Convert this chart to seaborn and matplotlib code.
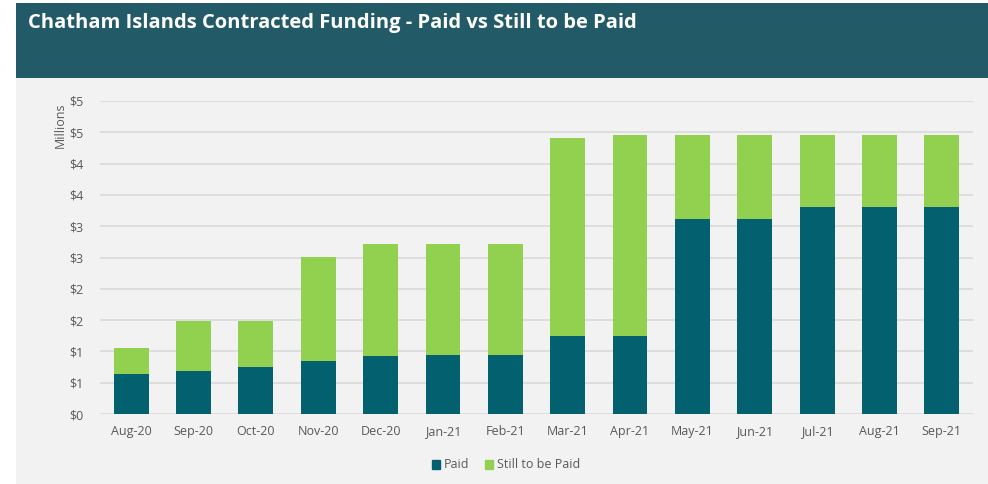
import matplotlib
matplotlib.use("Agg")
import matplotlib.pyplot as plt
import matplotlib.patches as mpatches
from matplotlib.ticker import FuncFormatter, MultipleLocator
import seaborn as sns
import pandas as pd

# values in $ millions
months = ["Aug-20", "Sep-20", "Oct-20", "Nov-20", "Dec-20", "Jan-21", "Feb-21",
          "Mar-21", "Apr-21", "May-21", "Jun-21", "Jul-21", "Aug-21", "Sep-21"]
paid = [0.64, 0.69, 0.75, 0.84, 0.92, 0.94, 0.94, 1.24, 1.24, 3.12, 3.12, 3.30, 3.30, 3.30]
still_to_be_paid = [0.41, 0.79, 0.73, 1.67, 1.79, 1.77, 1.78, 3.17, 3.22, 1.34, 1.34, 1.16, 1.16, 1.16]

teal = "#02606f"
green = "#92d050"
header = "#235a68"
bg = "#f2f2f2"
text_col = "#595959"

df = pd.DataFrame({"Month": months, "Paid": paid, "Still": still_to_be_paid})
df["Total"] = df["Paid"] + df["Still"]

sns.set_theme(style="white")
plt.rcParams["font.family"] = ["Open Sans", "DejaVu Sans"]

fig = plt.figure(figsize=(9.88, 4.84), dpi=100)
fig.patch.set_facecolor("white")

# grey panel and header band
fig.patches.append(mpatches.Rectangle((16 / 988, 0), 1, 1 - 78 / 484, transform=fig.transFigure,
                                      facecolor=bg, edgecolor="none", zorder=-2))
fig.patches.append(mpatches.Rectangle((16 / 988, 1 - 78 / 484), 1, 75 / 484, transform=fig.transFigure,
                                      facecolor=header, edgecolor="none", zorder=-1))
fig.text(28 / 988, 1 - 23 / 484, "Chatham Islands Contracted Funding - Paid vs Still to be Paid",
         color="white", fontsize=14.5, fontweight="bold", va="center", ha="left")

ax = fig.add_axes([100 / 988, 1 - 414 / 484, 873 / 988, 313 / 484])
ax.set_facecolor(bg)

sns.barplot(data=df, x="Month", y="Total", color=green, width=0.56, ax=ax, saturation=1,
            linewidth=0, zorder=2)
sns.barplot(data=df, x="Month", y="Paid", color=teal, width=0.56, ax=ax, saturation=1,
            linewidth=0, zorder=3)

ax.set_xlim(-0.5, len(months) - 0.5)
ax.set_ylim(0, 5)
ax.yaxis.set_major_locator(MultipleLocator(0.5))
ax.yaxis.set_major_formatter(FuncFormatter(lambda v, p: f"${int(v + 0.5)}"))
ax.grid(axis="y", color="#d9d9d9", linewidth=1.2, zorder=0)
ax.set_axisbelow(True)
for s in ax.spines.values():
    s.set_visible(False)
ax.tick_params(axis="both", length=0, labelsize=9, colors=text_col, pad=8)
ax.tick_params(axis="y", pad=12)
ax.set_xlabel("")
ax.set_ylabel("")
fig.text(60 / 988, 1 - 125 / 484, "Millions", rotation=90, color=text_col, fontsize=9,
         ha="center", va="center")

handles = [mpatches.Patch(color=teal, label="Paid"),
           mpatches.Patch(color=green, label="Still to be Paid")]
fig.legend(handles=handles, loc="center", bbox_to_anchor=(506 / 988, 1 - 465 / 484), ncol=2,
           frameon=False, fontsize=9, handlelength=0.7, handleheight=0.7, handletextpad=0.3,
           columnspacing=1.2, labelcolor=text_col)

fig.savefig("out.png", dpi=100, facecolor=fig.get_facecolor())
